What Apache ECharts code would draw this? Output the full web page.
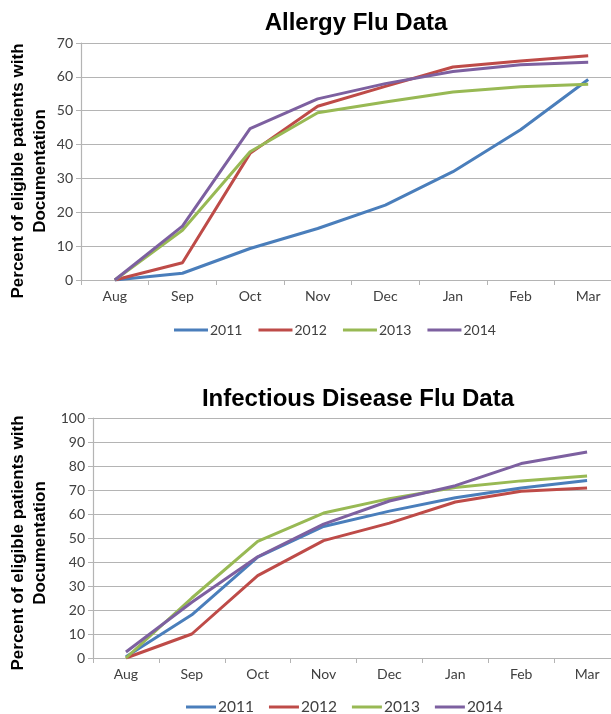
<!DOCTYPE html>
<html>
<head>
<meta charset="utf-8">
<script src="https://cdn.jsdelivr.net/npm/echarts@6/dist/echarts.min.js"></script>
<style>html,body{margin:0;padding:0;background:#fff;}#c{width:611px;height:714px;}</style>
</head>
<body>
<div id="c"></div>
<script>
var months = ['Aug','Sep','Oct','Nov','Dec','Jan','Feb','Mar'];
var years = ['2011','2012','2013','2014'];
var colors = ['#4A7EBB','#BE4B48','#98B954','#7D60A0'];

var allergy2011 = [0, 2.0, 9.3, 15.2, 22.1, 32.0, 44.4, 59.2];
var allergy2012 = [0, 5.1, 37.4, 51.3, 57.2, 62.9, 64.7, 66.2];
var allergy2013 = [0, 14.7, 37.9, 49.4, 52.6, 55.5, 57.1, 57.8];
var allergy2014 = [0, 15.9, 44.7, 53.5, 58.0, 61.6, 63.6, 64.3];

var infect2011 = [0.5, 18.0, 42.0, 54.8, 61.2, 66.8, 70.8, 74.0];
var infect2012 = [0, 10.0, 34.3, 48.9, 56.2, 65.0, 69.5, 70.8];
var infect2013 = [0, 25.0, 48.6, 60.4, 66.4, 71.0, 73.8, 75.8];
var infect2014 = [2.5, 23.2, 42.2, 55.8, 65.4, 71.8, 81.0, 85.8];

var allergySets = [allergy2011, allergy2012, allergy2013, allergy2014];
var infectSets = [infect2011, infect2012, infect2013, infect2014];

var yName = 'Percent of eligible patients with\nDocumentation';
var labelFont = {color:'#404040', fontSize:14, fontFamily:'Lato'};
var gridLineColor = '#b4b4b4';

function xAx(gi){
  return {
    type:'category', gridIndex:gi, data:months, boundaryGap:true,
    axisLine:{lineStyle:{color:gridLineColor, width:1.2}},
    axisTick:{show:true, interval:0, length:5, lineStyle:{color:gridLineColor}},
    axisLabel:Object.assign({margin:9, interval:0}, labelFont)
  };
}
function yAx(gi, max){
  return {
    type:'value', gridIndex:gi, min:0, max:max, interval:10,
    axisLine:{show:true, lineStyle:{color:gridLineColor, width:1.2}},
    axisTick:{show:true, length:5, lineStyle:{color:gridLineColor}},
    axisLabel:Object.assign({margin:8}, labelFont),
    splitLine:{show:true, lineStyle:{color:gridLineColor, width:1.2}}
  };
}

var series = [];
years.forEach(function(y,i){
  series.push({name:y, type:'line', xAxisIndex:0, yAxisIndex:0, data:allergySets[i],
    symbol:'none', lineStyle:{width:3, color:colors[i]}, itemStyle:{color:colors[i]}, z:2+i});
});
years.forEach(function(y,i){
  series.push({name:y, type:'line', xAxisIndex:1, yAxisIndex:1, data:infectSets[i],
    symbol:'none', lineStyle:{width:3, color:colors[i]}, itemStyle:{color:colors[i]}, z:2+i});
});

function nameText(cy){
  return {
    type:'text', x:29, y:cy, rotation:Math.PI/2,
    style:{text:yName, align:'center', verticalAlign:'middle',
      font:'bold 17px "Liberation Sans"', fill:'#000', lineHeight:22}
  };
}

var chart = echarts.init(document.getElementById('c'), null, {renderer:'canvas'});
chart.setOption({
  animation:false,
  backgroundColor:'#fff',
  title:[
    {text:'Allergy Flu Data', left:351, textAlign:'center', top:6,
      textStyle:{fontFamily:'Liberation Sans', fontWeight:'bold', fontSize:24, color:'#000'}},
    {text:'Infectious Disease Flu Data', left:353, textAlign:'center', top:382,
      textStyle:{fontFamily:'Liberation Sans', fontWeight:'bold', fontSize:24, color:'#000'}}
  ],
  legend:[
    {data:years, left:169, top:318, icon:'rect', itemWidth:34, itemHeight:3, itemGap:16,
      selectedMode:false,
      textStyle:{color:'#404040', fontSize:14, fontFamily:'Lato', padding:[0,0,0,-3]}},
    {data:years, left:181, top:694, icon:'rect', itemWidth:30, itemHeight:3, itemGap:15,
      selectedMode:false,
      textStyle:{color:'#404040', fontSize:15.5, fontFamily:'Lato', padding:[0,0,0,-3]}}
  ],
  grid:[
    {left:81, top:43, width:541, height:237, outerBoundsMode:'none'},
    {left:93, top:418, width:527, height:240, outerBoundsMode:'none'}
  ],
  xAxis:[xAx(0), xAx(1)],
  yAxis:[yAx(0,70), yAx(1,100)],
  graphic:[nameText(171), nameText(543)],
  series:series
});
</script>
</body>
</html>
